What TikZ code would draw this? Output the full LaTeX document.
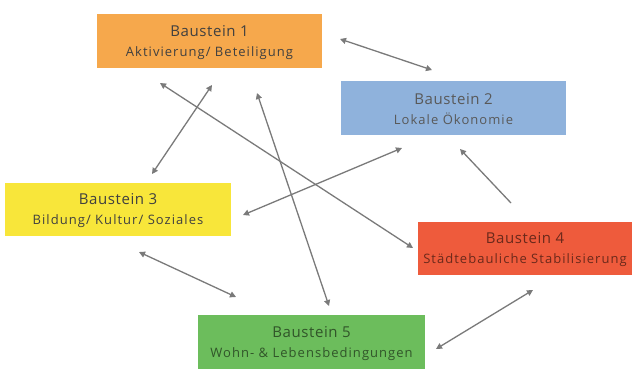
\documentclass[tikz,border=0pt]{standalone}
\usepackage{fontspec}
\setmainfont{Open Sans}
\newfontfamily\subfont[LetterSpace=8]{Open Sans}
\newfontfamily\titlefont[LetterSpace=4]{Open Sans}
\usetikzlibrary{arrows.meta}
\definecolor{cOrange}{HTML}{F6A84C}
\definecolor{cBlue}{HTML}{8FB2DC}
\definecolor{cYellow}{HTML}{F8E63A}
\definecolor{cRed}{HTML}{EE5B3C}
\definecolor{cGreen}{HTML}{6CBD5C}
\definecolor{cLine}{HTML}{7A7A7A}
\newcommand{\bsub}[1]{{\subfont\fontsize{13}{16}\selectfont #1}}
\tikzset{
  box/.style={rectangle, minimum width=225pt, minimum height=54pt, inner sep=0pt, align=center, font=\titlefont\fontsize{15}{20}\selectfont, text=black!75},
  link/.style={draw=cLine, line width=1.3pt, {Triangle[length=6pt,width=6pt]}-{Triangle[length=6pt,width=6pt]}},
  onelink/.style={draw=cLine, line width=1.3pt, -{Triangle[length=6pt,width=6pt]}}
}
\begin{document}
\begin{tikzpicture}[x=1pt,y=-1pt]
\useasboundingbox (0,0) rectangle (633,368);
\fill[white] (0,0) rectangle (633,368);
\node[box, fill=cOrange] (b1) at (209.5,41) {\strut\\[-20pt]Baustein 1\\[0pt]\bsub{Aktivierung/ Beteiligung}};
\node[box, fill=cBlue, text=black!65] (b2) at (453.5,108) {\strut\\[-20pt]Baustein 2\\[0pt]\bsub{Lokale Ökonomie}};
\node[box, fill=cYellow, minimum width=226pt, minimum height=53pt] (b3) at (118,209.5) {\strut\\[-20pt]Baustein 3\\[0pt]\bsub{Bildung/ Kultur/ Soziales}};
\node[box, fill=cRed, minimum width=214pt, minimum height=53pt, text=black!55!cRed] (b4) at (525,248.5) {\strut\\[-20pt]Baustein 4\\[0pt]\bsub{Städtebauliche Stabilisierung}};
\node[box, fill=cGreen, minimum width=227pt, text=black!55!cGreen] (b5) at (311.5,342) {\strut\\[-20pt]Baustein 5\\[0pt]\bsub{Wohn- \& Lebensbedingungen}};
% connector end points
\coordinate (p12a) at (340,39);
\coordinate (p12b) at (432,70);
\coordinate (p13a) at (212,85);
\coordinate (p13b) at (152,174);
\coordinate (p14a) at (160,83);
\coordinate (p14b) at (413,248);
\coordinate (p15a) at (257,93);
\coordinate (p15b) at (329,306);
\coordinate (p32a) at (243,215);
\coordinate (p32b) at (402,148);
\coordinate (p42a) at (511,203);
\coordinate (p42b) at (460,149);
\coordinate (p35a) at (139,252);
\coordinate (p35b) at (236,297);
\coordinate (p54a) at (436,349);
\coordinate (p54b) at (533,290);
\draw[link] (p12a) -- (p12b);
\draw[link] (p13a) -- (p13b);
\draw[link] (p14a) -- (p14b);
\draw[link] (p15a) -- (p15b);
\draw[link] (p32a) -- (p32b);
\draw[onelink] (p42a) -- (p42b);
\draw[link] (p35a) -- (p35b);
\draw[link] (p54a) -- (p54b);
\end{tikzpicture}
\end{document}
